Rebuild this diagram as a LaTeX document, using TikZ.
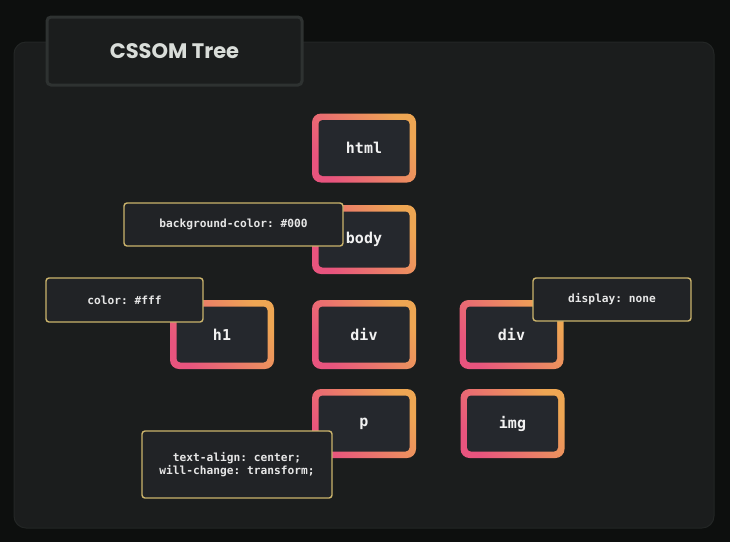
\documentclass[tikz,border=0pt]{standalone}
\usepackage{fontspec}
\setmonofont{DejaVu Sans Mono}
\newfontfamily\headfont{Poppins}
\definecolor{pagebg}{HTML}{0D0F0E}
\definecolor{panelbg}{HTML}{1B1D1D}
\definecolor{panelline}{HTML}{232625}
\definecolor{tabline}{HTML}{2E3231}
\definecolor{headtext}{HTML}{D9DDD9}
\definecolor{elempink}{HTML}{E8547E}
\definecolor{elemorange}{HTML}{EEA653}
\definecolor{elemfill}{HTML}{25282D}
\definecolor{elemtext}{HTML}{F2F2F2}
\definecolor{notegold}{HTML}{CBB46C}
\definecolor{notefill}{HTML}{212326}
\definecolor{notetext}{HTML}{E6E6E6}
\tikzset{
  elem/.style={minimum width=104pt, minimum height=69pt, inner sep=0pt,
    rounded corners=9pt, left color=elempink, right color=elemorange, shading angle=125,
    path picture={\fill[elemfill, rounded corners=4pt]
      ([xshift=6.5pt,yshift=-6.5pt]path picture bounding box.north west) rectangle
      ([xshift=-6.5pt,yshift=6.5pt]path picture bounding box.south east);},
    text=elemtext, font=\ttfamily\bfseries\fontsize{15}{18}\selectfont},
  prop/.style={draw=notegold, line width=1.4pt, fill=notefill, rounded corners=3pt,
    inner sep=0pt, align=center, text=notetext,
    font=\ttfamily\bfseries\fontsize{11.2}{13.8}\selectfont}
}
\begin{document}
\begin{tikzpicture}[x=1pt,y=-1pt]
    \useasboundingbox (0,0) rectangle (730,542);
    \fill[pagebg] (0,0) rectangle (730,542);
    % panel and heading
    \draw[panelline, fill=panelbg, line width=1pt, rounded corners=12pt] (14,42) rectangle (714,528);
    \node[fill=panelbg, draw=tabline, line width=3pt, rounded corners=4pt,
          minimum width=255pt, minimum height=68pt, text=headtext,
          font=\headfont\bfseries\fontsize{21}{24}\selectfont] (title) at (174.5,51) {CSSOM Tree};

    % element boxes
    \node[elem] (html) at (364,148) {html};
    \node[elem] (body) at (364,239.5) {body};
    \node[elem] (h1) at (222,334.5) {h1};
    \node[elem] (div1) at (364,334.5) {div};
    \node[elem] (div2) at (511.5,334.5) {div};
    \node[elem] (p) at (364,423.5) {p};
    \node[elem] (img) at (512.5,423.5) {img};

    % style notes
    \node[prop, minimum width=219pt, minimum height=43pt] (bgnote) at (233.5,224.5) {background-color: \#000};
    \node[prop, minimum width=157pt, minimum height=44pt] (colornote) at (124.5,300) {color: \#fff};
    \node[prop, minimum width=158pt, minimum height=43pt] (displaynote) at (612,299.5) {display: none};
    \node[prop, minimum width=190pt, minimum height=67pt] (textnote) at (237,464.5) {text-align: center;\\will-change: transform;};
\end{tikzpicture}
\end{document}
